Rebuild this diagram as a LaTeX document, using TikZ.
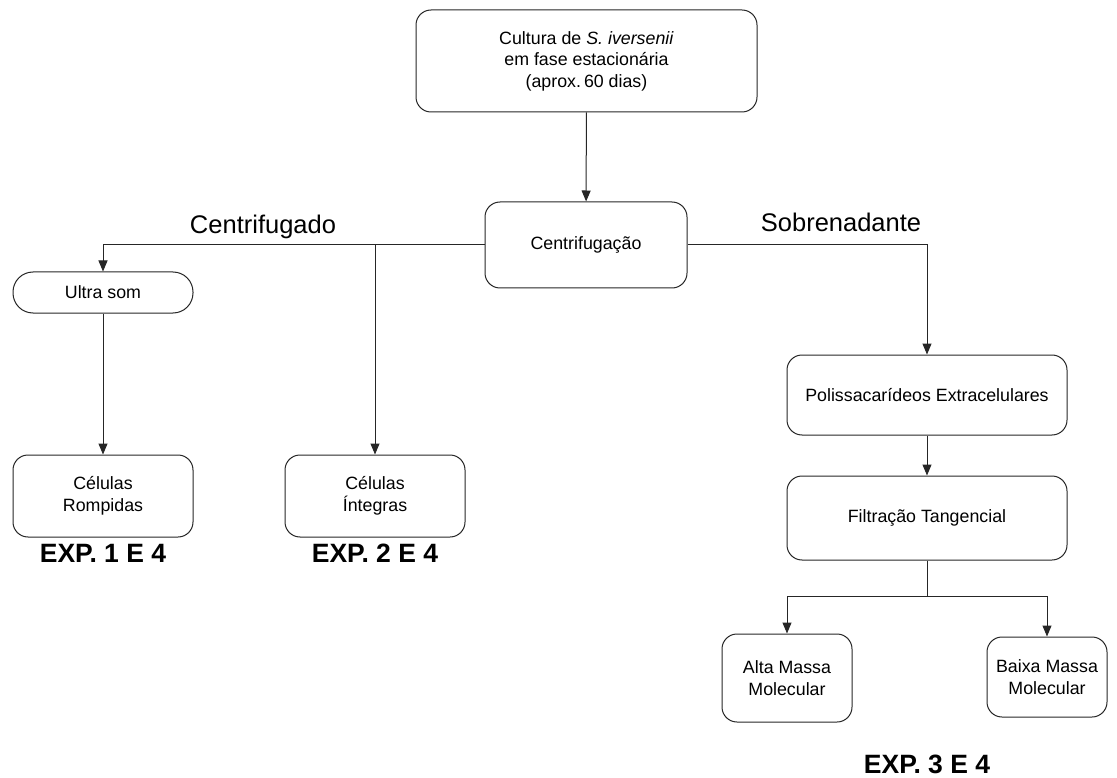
\documentclass[tikz,border=0pt]{standalone}
\usepackage{fontspec}
\setmainfont{Liberation Sans}
\usepackage{tikz}
\usetikzlibrary{arrows.meta, positioning}

\begin{document}
\begin{tikzpicture}[x=1pt, y=-1pt, >={Triangle[length=11pt, width=9pt]},
    caixa/.style={draw=black!85, line width=1pt, rounded corners=15pt, align=center,
        font=\fontsize{17.8}{21.5}\selectfont, inner sep=0pt},
    rotulo/.style={font=\fontsize{25.5}{30}\selectfont},
    exp/.style={font=\fontsize{26.5}{30}\selectfont\bfseries},
    seta/.style={->, line width=1pt, draw=black!85}]
    % Área total da figura
    \useasboundingbox (0,0) rectangle (1117,778);

    % Etapas principais
    \node[caixa, minimum width=341pt, minimum height=102pt] (cultura) at (586.5,61)
        {Cultura de \textit{S. iversenii}\\ em fase estacionária\\ (aprox.\,60 dias)};
    \node[caixa, minimum width=202pt, minimum height=86pt] (centrif) at (586,245) {Centrifugação};

    % Ramo do centrifugado
    \node[caixa, rounded corners=20pt, minimum width=180pt, minimum height=41pt] (ultrasom) at (103,292.5) {Ultra som};
    \node[caixa, minimum width=180pt, minimum height=82pt] (rompidas) at (103,496) {Células\\ Rompidas};
    \node[caixa, minimum width=180pt, minimum height=82pt] (integras) at (375,496) {Células\\ Íntegras};

    % Ramo do sobrenadante
    \node[caixa, minimum width=280pt, minimum height=80pt] (polissac) at (927,395) {Polissacarídeos Extracelulares};
    \node[caixa, minimum width=280pt, minimum height=84pt] (filtracao) at (927,518) {Filtração Tangencial};
    \node[caixa, minimum width=130pt, minimum height=88pt] (alta) at (787,678) {Alta Massa\\ Molecular};
    \node[caixa, minimum width=120pt, minimum height=80pt] (baixa) at (1047,677) {Baixa Massa\\ Molecular};

    % Rótulos
    \node[rotulo] (lcentrif) at (263,227) {Centrifugado};
    \node[rotulo] (lsobren) at (841,222) {Sobrenadante};
    \node[exp] (exp1) at (103,553) {EXP. 1 E 4};
    \node[exp] (exp2) at (375,553) {EXP. 2 E 4};
    \node[exp] (exp3) at (927,764) {EXP. 3 E 4};

    % Ligações
    \draw[seta] (cultura) -- (centrif);
    \draw[seta] (centrif.west) -| (ultrasom.north);
    \draw[seta] (centrif.west) -| (integras.north);
    \draw[seta] (ultrasom) -- (rompidas);
    \draw[seta] (centrif.east) -| (polissac.north);
    \draw[seta] (polissac) -- (filtracao);
    \coordinate (divisao) at ([yshift=-36pt]filtracao.south);
    \draw[line width=1pt, draw=black!85] (filtracao.south) -- (divisao);
    \draw[seta] (divisao) -| (alta.north);
    \draw[seta] (divisao) -| (baixa.north);
\end{tikzpicture}
\end{document}
